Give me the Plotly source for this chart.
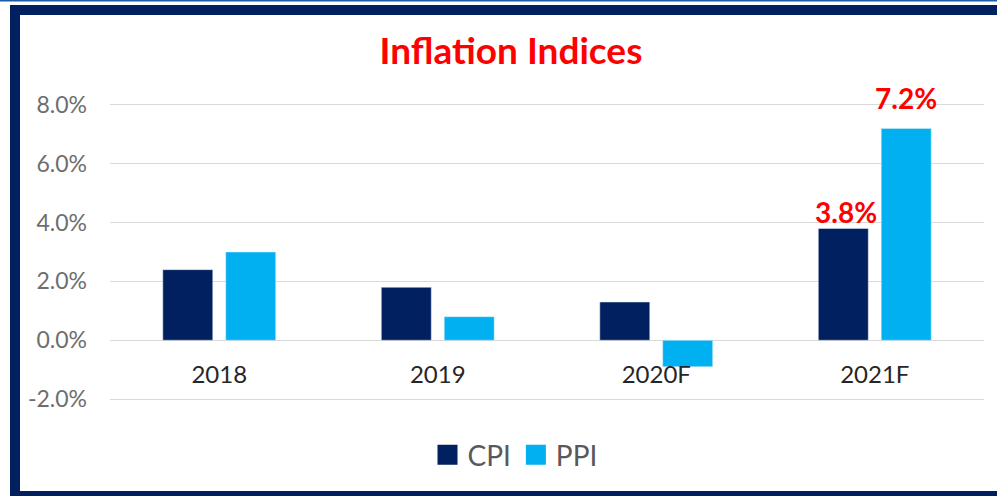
import plotly.graph_objects as go

categories = ["2018", "2019", "2020F", "2021F"]
cpi = [2.4, 1.8, 1.3, 3.8]
ppi = [3.0, 0.8, -0.9, 7.2]
show_label = [False, False, False, True]
y_ticks = [-2, 0, 2, 4, 6, 8]
y_tick_text = [f"{v:.1f}%" for v in y_ticks]

NAVY = "#002060"
CYAN = "#00B0F0"
RED = "#FF0000"
FONT = "Lato, 'Open Sans', sans-serif"

W, H = 997, 496
ml, mr, mt, mb = 110, 13, 102, 94
pw, ph = W - ml - mr, H - mt - mb
y_range = [-2.1, 8.1]


def px_x(sx):
    return (sx - ml) / pw


def px_y(sy):
    return (H - mb - sy) / ph


fig = go.Figure()
series = [("CPI", cpi, NAVY, -29, -3), ("PPI", ppi, CYAN, 31.5, 11)]
for name, vals, col, xs, ys in series:
    fig.add_trace(go.Bar(
        x=categories, y=vals, name=name, marker_color=col,
        showlegend=False, hoverinfo="skip",
    ))
    fig.add_trace(go.Scatter(
        x=[None], y=[None], mode="markers", name=name,
        marker=dict(symbol="square", size=20, color=col, line=dict(color=col, width=4)),
        showlegend=True,
    ))
    for c, v, s in zip(categories, vals, show_label):
        if s:
            fig.add_annotation(
                x=c, y=v, xref="x", yref="y", text=f"<b>{v:.1f}%</b>",
                showarrow=False, xanchor="center", yanchor="bottom",
                xshift=xs, yshift=ys,
                font=dict(family=FONT, size=28, color=RED),
            )

zero_pos = (0 - y_range[0]) / (y_range[1] - y_range[0])

border = dict(color=NAVY, width=10)
frame_left, frame_top, frame_bottom, frame_right = 15, 10, 496, 1010

fig.update_layout(
    width=W, height=H,
    margin=dict(l=ml, r=mr, t=mt, b=mb),
    paper_bgcolor="white", plot_bgcolor="white",
    barmode="group", bargap=0.424, bargroupgap=0.206,
    title=dict(text="<b>Inflation Indices</b>", x=511 / W, xref="container", xanchor="center",
               y=1 - 51 / H, yref="container", yanchor="middle",
               font=dict(family=FONT, size=37, color=RED)),
    xaxis=dict(anchor="free", position=zero_pos, showgrid=False, showline=False,
               ticks="", ticklabelstandoff=18,
               tickfont=dict(family=FONT, size=24, color="#262626")),
    yaxis=dict(range=y_range, tickvals=y_ticks, ticktext=y_tick_text,
               showgrid=True, gridcolor="#D9D9D9", gridwidth=1,
               zeroline=True, zerolinecolor="#D9D9D9", zerolinewidth=1,
               showline=False, ticks="", ticklabelstandoff=22,
               tickfont=dict(family=FONT, size=23, color="#6E6E6E")),
    legend=dict(orientation="h", x=px_x(515), xanchor="center", y=px_y(455), yanchor="middle",
                font=dict(family=FONT, size=28, color="#595959"), bgcolor="rgba(0,0,0,0)",
                itemclick=False),
    shapes=[
        dict(type="line", xref="paper", yref="paper", layer="below", line=border,
             x0=px_x(frame_left), x1=px_x(frame_left), y0=px_y(frame_bottom + 5), y1=px_y(frame_top - 5)),
        dict(type="line", xref="paper", yref="paper", layer="below", line=border,
             x0=px_x(frame_left - 5), x1=px_x(frame_right), y0=px_y(frame_top), y1=px_y(frame_top)),
        dict(type="line", xref="paper", yref="paper", layer="below", line=border,
             x0=px_x(frame_left - 5), x1=px_x(frame_right), y0=px_y(frame_bottom), y1=px_y(frame_bottom)),
        dict(type="line", xref="paper", yref="paper", layer="below",
             line=dict(color="#1F5AA6", width=1.5),
             x0=px_x(0), x1=px_x(W), y0=px_y(0.7), y1=px_y(0.7)),
    ],
)

fig.write_html(
    "out.html",
    config={"displayModeBar": False},
    post_script="document.body.style.margin='0';document.body.style.overflow='hidden';",
)
